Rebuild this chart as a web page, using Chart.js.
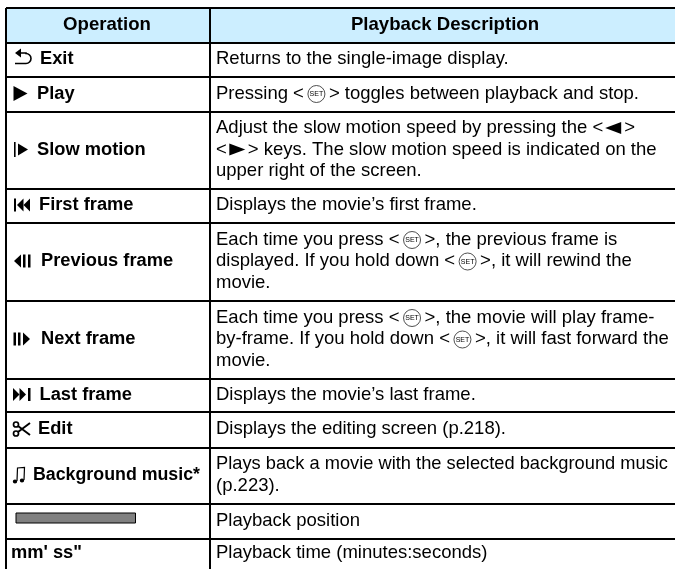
<!DOCTYPE html>
<html>
<head>
<meta charset="utf-8">
<title>Movie playback operations</title>
<style>
  html, body { margin: 0; padding: 0; background: #fff; }
  #wrap { position: relative; width: 675px; height: 569px; }
</style>
<script src="https://cdn.jsdelivr.net/npm/chart.js@4"></script>
</head>
<body>
<div id="wrap"><canvas id="table-chart"></canvas></div>
<script>
// table geometry, in axis units (the table runs off the right and bottom of the page)
const columnEdges = [6, 210];
const rowEdges = [8, 43, 77, 112, 189, 223, 301, 379, 412, 448, 504, 539];
const PAGE_RIGHT = 675;
const PAGE_BOTTOM = 569;

const columnHeaders = ['Operation', 'Playback Description'];
const headerCenters = [107, 445];
const operationIcons = ['back', 'play', 'slow', 'first', 'prev', 'next', 'last', 'scissors', 'note', 'bar', null];
const operationNames = ['Exit', 'Play', 'Slow motion', 'First frame', 'Previous frame', 'Next frame',
    'Last frame', 'Edit', 'Background music*', '', "mm' ss\""];
const descriptions = [
    ['Returns to the single-image display.'],
    ['Pressing <{set}> toggles between playback and stop.'],
    ['Adjust the slow motion speed by pressing the <{left}>', '<{right}> keys. The slow motion speed is indicated on the', 'upper right of the screen.'],
    ['Displays the movie’s first frame.'],
    ['Each time you press <{set}>, the previous frame is', 'displayed. If you hold down <{set}>, it will rewind the', 'movie.'],
    ['Each time you press <{set}>, the movie will play frame-', 'by-frame. If you hold down <{set}>, it will fast forward the', 'movie.'],
    ['Displays the movie’s last frame.'],
    ['Displays the editing screen (p.218).'],
    ['Plays back a movie with the selected background music', '(p.223).'],
    ['Playback position'],
    ['Playback time (minutes:seconds)']
];

const BODY_FONT = '18.5px "Liberation Sans"';
const BOLD_FONT = 'bold 18.3px "Liberation Sans"';
const HEADER_FONT = 'bold 18.6px "Liberation Sans"';
const LINE_HEIGHT = 21.5;
const TEXT_LIFT = 1;

function triangle(ctx, x, y, w, h, dir) {
    ctx.beginPath();
    ctx.moveTo(x, y - h / 2);
    ctx.lineTo(x, y + h / 2);
    ctx.lineTo(x + dir * w, y);
    ctx.closePath();
    ctx.fill();
}

function setIcon(ctx, x, y) {
    ctx.save();
    ctx.lineWidth = 0.8;
    ctx.strokeStyle = '#222';
    ctx.beginPath();
    ctx.arc(x + 9, y + 0.5, 8.5, 0, Math.PI * 2);
    ctx.stroke();
    ctx.font = '7px "Liberation Sans"';
    ctx.textAlign = 'center';
    ctx.fillText('SET', x + 9, y + 1);
    ctx.restore();
    return 18;
}

// operation column glyphs
function drawOperationIcon(ctx, name, y) {
    ctx.save();
    ctx.fillStyle = '#000';
    ctx.strokeStyle = '#000';
    if (name === 'back') {
        ctx.lineWidth = 1.6;
        ctx.beginPath();
        ctx.moveTo(20, y - 6);
        ctx.lineTo(26, y - 6);
        ctx.arc(26, y - 0.5, 5, -Math.PI / 2, Math.PI / 2);
        ctx.lineTo(15, y + 4.5);
        ctx.stroke();
        triangle(ctx, 21, y - 6, 6, 9, -1);
    } else if (name === 'play') {
        triangle(ctx, 13.5, y, 14, 15, 1);
    } else if (name === 'slow') {
        ctx.fillRect(14, y - 7.5, 1.6, 15);
        triangle(ctx, 18, y, 10, 12, 1);
    } else if (name === 'first') {
        ctx.fillRect(14, y - 6.5, 2, 13);
        triangle(ctx, 23.5, y, 6.5, 13, -1);
        triangle(ctx, 30, y, 6.5, 13, -1);
    } else if (name === 'prev') {
        triangle(ctx, 21, y, 7, 13, -1);
        ctx.fillRect(23, y - 6.5, 2.5, 13);
        ctx.fillRect(28, y - 6.5, 2.5, 13);
    } else if (name === 'next') {
        ctx.fillRect(13.5, y - 6.5, 2.5, 13);
        ctx.fillRect(18, y - 6.5, 2.5, 13);
        triangle(ctx, 23, y, 7, 13, 1);
    } else if (name === 'last') {
        triangle(ctx, 13, y, 6.5, 13, 1);
        triangle(ctx, 19.5, y, 6.5, 13, 1);
        ctx.fillRect(28, y - 6.5, 2.5, 13);
    } else if (name === 'scissors') {
        ctx.lineWidth = 2;
        ctx.beginPath();
        ctx.moveTo(30, y - 6);
        ctx.lineTo(18, y + 3);
        ctx.moveTo(30, y + 6);
        ctx.lineTo(18, y - 3);
        ctx.stroke();
        ctx.lineWidth = 1.7;
        ctx.beginPath();
        ctx.arc(16, y - 4.5, 2.5, 0, Math.PI * 2);
        ctx.moveTo(18.5, y + 4.5);
        ctx.arc(16, y + 4.5, 2.5, 0, Math.PI * 2);
        ctx.stroke();
    } else if (name === 'note') {
        ctx.lineWidth = 1.2;
        ctx.beginPath();
        ctx.moveTo(17, y + 6);
        ctx.lineTo(17.5, y - 7);
        ctx.lineTo(24.5, y - 7.5);
        ctx.lineTo(24, y + 5);
        ctx.stroke();
        ctx.beginPath();
        ctx.ellipse(15, y + 6.5, 2.2, 2, 0, 0, Math.PI * 2);
        ctx.ellipse(22, y + 5.5, 2.2, 2, 0, 0, Math.PI * 2);
        ctx.fill();
    }
    ctx.restore();
}

// one line of body text, with the inline key symbols
function drawRichLine(ctx, text, x, y, maxWidth) {
    text.split(/(\{\w+\})/).forEach(part => {
        if (part === '{set}') {
            x += setIcon(ctx, x + 3.5, y) + 7;
        } else if (part === '{left}') {
            triangle(ctx, x + 18, y, 16, 12, -1);
            x += 21;
        } else if (part === '{right}') {
            triangle(ctx, x + 2.5, y, 16, 12, 1);
            x += 21;
        } else if (part) {
            ctx.fillText(part, x, y, maxWidth);
            x += ctx.measureText(part).width;
        }
    });
}

const tableTextPlugin = {
    id: 'tableText',
    afterDraw(chart) {
        const ctx = chart.ctx;
        const xs = chart.scales.x;
        const ys = chart.scales.y;
        ctx.save();
        ctx.fillStyle = '#000';
        ctx.textBaseline = 'middle';

        // header row
        ctx.font = HEADER_FONT;
        ctx.textAlign = 'center';
        const headerY = ys.getPixelForValue((rowEdges[0] + rowEdges[1]) / 2) - 1;
        columnHeaders.forEach((label, i) => {
            ctx.fillText(label, xs.getPixelForValue(headerCenters[i]), headerY);
        });

        // body rows
        ctx.textAlign = 'left';
        const nameOffset = { back: 40, play: 37, slow: 37, first: 39, prev: 41, next: 41, last: 39.5, scissors: 38, note: 33 };
        operationNames.forEach((name, i) => {
            const bottom = i + 2 < rowEdges.length ? rowEdges[i + 2] : PAGE_BOTTOM;
            const midY = ys.getPixelForValue((rowEdges[i + 1] + bottom) / 2) - TEXT_LIFT;
            const icon = operationIcons[i];
            drawOperationIcon(ctx, icon, midY);
            ctx.font = BOLD_FONT;
            // the background music row is set tighter in the reference
            if (name) ctx.fillText(name, xs.getPixelForValue(nameOffset[icon] || 11), midY, icon === 'note' ? 167 : undefined);

            ctx.font = BODY_FONT;
            const lines = descriptions[i];
            lines.forEach((line, j) => {
                const lineY = midY + (j - (lines.length - 1) / 2) * LINE_HEIGHT;
                drawRichLine(ctx, line, xs.getPixelForValue(216), lineY, icon === 'note' && j === 0 ? 452 : undefined);
            });
        });
        ctx.restore();
    }
};

new Chart(document.getElementById('table-chart'), {
    type: 'scatter',
    data: {
        datasets: [
            {   // header band
                type: 'line',
                data: [{ x: columnEdges[0], y: rowEdges[0] }, { x: PAGE_RIGHT, y: rowEdges[0] }],
                fill: { value: rowEdges[1] },
                backgroundColor: '#cceeff',
                borderWidth: 0,
                pointRadius: 0
            },
            {   // playback position bar
                type: 'line',
                data: [{ x: 16, y: 513 }, { x: 135.5, y: 513 }, { x: 135.5, y: 523 }, { x: 16, y: 523 }, { x: 16, y: 513 }],
                fill: 'shape',
                backgroundColor: '#808080',
                borderColor: '#000',
                borderWidth: 1,
                pointRadius: 0
            }
        ]
    },
    options: {
        responsive: true,
        maintainAspectRatio: false,
        animation: false,
        layout: { padding: { left: 6, top: 8, right: 0, bottom: 0 } },
        plugins: { legend: { display: false }, tooltip: { enabled: false } },
        scales: {
            x: {
                type: 'linear', min: columnEdges[0], max: PAGE_RIGHT,
                afterBuildTicks: axis => { axis.ticks = columnEdges.map(v => ({ value: v })); },
                grid: { color: '#000', lineWidth: 2, drawTicks: false, z: 1 },
                border: { display: false },
                ticks: { display: false }
            },
            y: {
                type: 'linear', min: rowEdges[0], max: PAGE_BOTTOM, reverse: true,
                afterBuildTicks: axis => { axis.ticks = rowEdges.map(v => ({ value: v })); },
                grid: { color: '#000', lineWidth: 2, drawTicks: false, z: 1 },
                border: { display: false },
                ticks: { display: false }
            }
        }
    },
    plugins: [tableTextPlugin]
});
</script>
</body>
</html>
